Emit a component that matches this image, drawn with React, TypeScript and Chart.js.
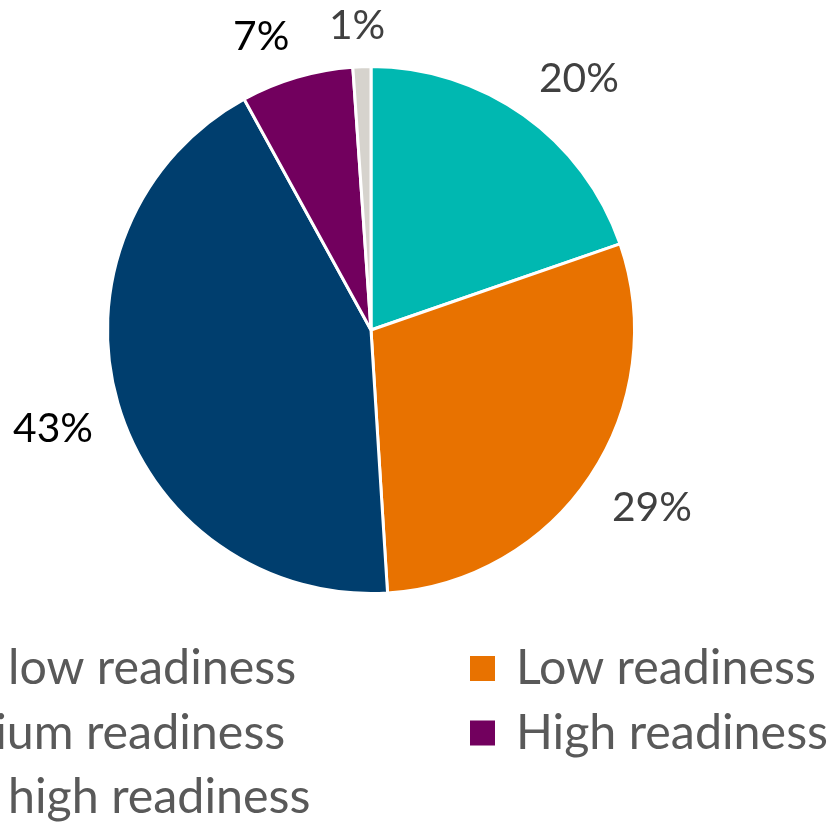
import React, { useEffect, useRef } from "react";
import { Chart, registerables } from "chart.js";

Chart.register(...registerables);

const categories = [
  "Very low readiness",
  "Low readiness",
  "Medium readiness",
  "High readiness",
  "Very high readiness",
];
const shares = [19.7, 29.3, 43.0, 6.9, 1.1];
const sliceColors = ["#00B8B1", "#E87200", "#003E6E", "#72005E", "#D6D3CD"];
const labelColors = ["#404040", "#404040", "#000000", "#000000", "#404040"];
const legendTextColor = "#595959";
const FONT = "Lato, 'Open Sans', sans-serif";

const outLabels = {
  id: "outLabels",
  afterDatasetsDraw(chart: any) {
    const ctx = chart.ctx;
    const meta = chart.getDatasetMeta(0);
    const total = shares.reduce((a, b) => a + b, 0);
    ctx.save();
    ctx.font = `100px ${FONT}`;
    const size = (100 * 80) / ctx.measureText("20%").width;
    ctx.font = `${size}px ${FONT}`;
    ctx.textAlign = "center";
    ctx.textBaseline = "alphabetic";
    meta.data.forEach((arc: any, i: number) => {
      const p = arc.getProps(["x", "y", "startAngle", "endAngle", "outerRadius"], true);
      const mid = (p.startAngle + p.endAngle) / 2;
      const ux = Math.cos(mid);
      const uy = Math.sin(mid);
      const text = Math.round((shares[i] / total) * 100) + "%";
      const m = ctx.measureText(text);
      const w = m.width;
      const capH = m.actualBoundingBoxAscent;
      const h = capH + 4;
      const g = 26;
      const fx = Math.max(-1, Math.min(1, ux * 4));
      const fy = Math.max(-1, Math.min(1, uy * 4));
      const px = p.x + ux * (p.outerRadius + g) + (w / 2) * fx;
      const py = p.y + uy * (p.outerRadius + g) + (h / 2) * fy;
      ctx.fillStyle = labelColors[i];
      ctx.fillText(text, px, py + capH / 2);
    });
    ctx.restore();
  },
};

const gridLegend = {
  id: "gridLegend",
  afterDraw(chart: any) {
    const ctx = chart.ctx;
    ctx.save();
    ctx.font = `100px ${FONT}`;
    const size = (100 * 300) / ctx.measureText("Low readiness").width;
    ctx.font = `${size}px ${FONT}`;
    ctx.textAlign = "left";
    ctx.textBaseline = "alphabetic";
    const col2Text = 516;
    const col1Text = 14 - ctx.measureText("Very ").width - 6;
    const box = 25;
    const textGap = 46;
    const rowBaseline = [684, 748.5, 813];
    categories.forEach((label, i) => {
      const col = i % 2;
      const row = Math.floor(i / 2);
      const tx = col === 0 ? col1Text : col2Text;
      const base = rowBaseline[row];
      const capH = ctx.measureText("H").actualBoundingBoxAscent;
      const cy = base - capH / 2 + 2;
      ctx.fillStyle = sliceColors[i];
      ctx.fillRect(tx - textGap, cy - box / 2, box, box);
      ctx.fillStyle = legendTextColor;
      ctx.fillText(label, tx, base);
    });
    ctx.restore();
  },
};

export default function App() {
  const ref = useRef<HTMLCanvasElement>(null);
  useEffect(() => {
    const chart = new Chart(ref.current as HTMLCanvasElement, {
      type: "pie",
      data: {
        labels: categories,
        datasets: [
          {
            data: shares,
            backgroundColor: sliceColors,
            borderColor: "#ffffff",
            borderWidth: 3,
            hoverOffset: 0,
            offset: 0,
          },
        ],
      },
      options: {
        animation: false,
        responsive: false,
        events: [],
        layout: { padding: { left: 106, top: 65, right: 195, bottom: 229 } },
        plugins: {
          legend: { display: false },
          tooltip: { enabled: false },
        },
      },
      plugins: [outLabels, gridLegend],
    } as any);
    return () => chart.destroy();
  }, []);
  return (
    <div
      style={{
        position: "absolute",
        left: 0,
        top: 0,
        width: 831,
        height: 824,
        overflow: "hidden",
        background: "#ffffff",
      }}
    >
      <canvas ref={ref} width={831} height={824} style={{ display: "block", width: 831, height: 824 }} />
    </div>
  );
}
